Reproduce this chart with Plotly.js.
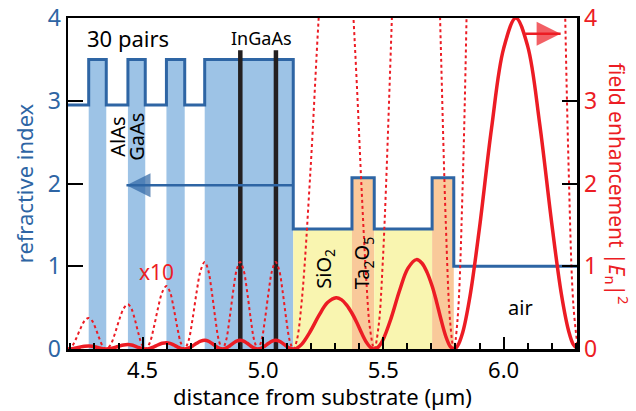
<!DOCTYPE html>
<html>
<head>
<meta charset="utf-8">
<script src="https://cdn.plot.ly/plotly-3.0.1.min.js"></script>
<style>html,body{margin:0;padding:0;background:#fff;}#chart{width:636px;height:411px;}</style>
</head>
<body>
<div id="chart"></div>
<script>
// Layer structure (µm from substrate) and refractive index
const layerBounds = [4.19, 4.276, 4.349, 4.439, 4.511, 4.599, 4.675, 4.758, 5.126, 5.370, 5.4625, 5.703, 5.793, 6.305];
const layerIndex = [2.95, 3.5, 2.95, 3.5, 2.95, 3.5, 2.95, 3.5, 1.45, 2.07, 1.45, 2.07, 1.0];
const layerMaterial = ['AlAs','GaAs','AlAs','GaAs','AlAs','GaAs','AlAs','GaAs','SiO2','Ta2O5','SiO2','Ta2O5','air'];

// Quantum wells (InGaAs)
const qwX = [4.906, 5.054];
const qwTop = 3.61;

// Field enhancement |E_n|^2
const fieldX = [
4.190, 4.2072, 4.2244, 4.2416, 4.2588, 4.276, 4.2906, 4.3052, 4.3198, 4.3344, 4.349,
4.367, 4.385, 4.403, 4.421, 4.439, 4.4536, 4.4682, 4.4828, 4.4974, 4.512,
4.5294, 4.5468, 4.5642, 4.5816, 4.599, 4.614, 4.629, 4.644, 4.659, 4.674,
4.6908, 4.7076, 4.7244, 4.7412, 4.758, 4.7728, 4.7876, 4.8024, 4.8172, 4.832,
4.8466, 4.8612, 4.8758, 4.8904, 4.905, 4.9198, 4.9346, 4.9494, 4.9642, 4.979,
4.9938, 5.0086, 5.0234, 5.0382, 5.053, 5.0676, 5.0822, 5.0968, 5.1114, 5.126,
5.140, 5.1616, 5.1972, 5.2328, 5.2684, 5.304, 5.326, 5.348, 5.370, 5.390, 5.410, 5.430, 5.445, 5.4625,
5.480, 5.4976, 5.5327, 5.5678, 5.6029, 5.638, 5.660, 5.682, 5.703, 5.720, 5.740, 5.760, 5.778, 5.793,
5.808, 5.830, 5.860, 5.900, 5.950, 6.000, 6.051, 6.100, 6.150, 6.200, 6.240, 6.270, 6.290, 6.309
];
const fieldY = [
0, 0.0036, 0.0130, 0.0246, 0.0340, 0.0376, 0.0340, 0.0246, 0.0130, 0.0036, 0,
0.0052, 0.0187, 0.0353, 0.0488, 0.054, 0.0488, 0.0353, 0.0187, 0.0052, 0,
0.0073, 0.0263, 0.0497, 0.0687, 0.076, 0.0687, 0.0497, 0.0263, 0.0073, 0,
0.0100, 0.0363, 0.0687, 0.0950, 0.105, 0.0950, 0.0687, 0.0363, 0.0100, 0,
0.0100, 0.0363, 0.0687, 0.0950, 0.105, 0.0950, 0.0687, 0.0363, 0.0100, 0,
0.0100, 0.0363, 0.0687, 0.0950, 0.105, 0.0950, 0.0687, 0.0363, 0.0100, 0,
0.0094, 0.0592, 0.2142, 0.4058, 0.5608, 0.62, 0.597, 0.531, 0.432, 0.321, 0.193, 0.081, 0.0243, 0,
0.0262, 0.1031, 0.3731, 0.7069, 0.9769, 1.08, 1.040, 0.926, 0.761, 0.587, 0.356, 0.151, 0.0326, 0,
0.0333, 0.199, 0.631, 1.468, 2.67, 3.63, 4.0, 3.66, 2.72, 1.52, 0.665, 0.221, 0.053, 0
];
const zoomFactor = 10;

// Arrows (start -> tip)
const blueArrowX = [5.126, 4.433];
const blueArrowY = [1.98, 1.98];
const redArrowX = [6.09, 6.237];
const redArrowY = [3.81, 3.81];

const xTickVals = [4.5, 5.0, 5.5, 6.0];
const xTickText = ['4.5', '5.0', '5.5', '6.0'];
const yTickVals = [0, 1, 2, 3, 4];

const BLUE = '#2e65a4';
const RED = '#ec1c24';
const FONT = 'Noto Sans, Open Sans, sans-serif';
const fillColor = {AlAs: 'rgba(0,0,0,0)', GaAs: '#9dc3e6', SiO2: '#f9f5b0', Ta2O5: '#f9c99a', air: 'rgba(0,0,0,0)'};

const barX = [], barW = [];
for (let i = 0; i < layerIndex.length; i++) {
  barX.push((layerBounds[i] + layerBounds[i + 1]) / 2);
  barW.push(layerBounds[i + 1] - layerBounds[i]);
}

const qwLineX = [], qwLineY = [];
qwX.forEach(v => { qwLineX.push(v, v, null); qwLineY.push(0, qwTop, null); });

const traces = [
  {type: 'bar', x: barX, y: layerIndex, width: barW, base: 0,
   marker: {color: layerMaterial.map(m => fillColor[m]), line: {width: 0}},
   hoverinfo: 'skip', showlegend: false, xaxis: 'x', yaxis: 'y'},
  {type: 'scatter', mode: 'lines', x: layerBounds, y: layerIndex.concat([layerIndex[layerIndex.length - 1]]),
   line: {shape: 'hv', color: BLUE, width: 3}, hoverinfo: 'skip', showlegend: false, yaxis: 'y'},
  {type: 'scatter', mode: 'lines', x: qwLineX, y: qwLineY,
   line: {color: '#231f20', width: 4.5}, hoverinfo: 'skip', showlegend: false, yaxis: 'y'},
  {type: 'scatter', mode: 'lines+markers', x: blueArrowX, y: blueArrowY,
   line: {color: BLUE, width: 2.5}, marker: {symbol: 'arrow-left', size: [0, 24], color: BLUE, line: {width: 0}},
   hoverinfo: 'skip', showlegend: false, yaxis: 'y'},
  {type: 'scatter', mode: 'lines', x: fieldX, y: fieldY.map(v => v * zoomFactor),
   line: {shape: 'spline', color: RED, width: 2, dash: 'dot'}, hoverinfo: 'skip', showlegend: false, yaxis: 'y2'},
  {type: 'scatter', mode: 'lines', x: fieldX, y: fieldY,
   line: {shape: 'spline', color: RED, width: 3.5}, hoverinfo: 'skip', showlegend: false, yaxis: 'y2'},
  {type: 'scatter', mode: 'lines+markers', x: redArrowX, y: redArrowY,
   line: {color: RED, width: 2.5}, marker: {symbol: 'arrow-right', size: [0, 24], color: RED, line: {width: 0}},
   hoverinfo: 'skip', showlegend: false, yaxis: 'y2'}
];

function txt(text, x, y, size, color, angle) {
  return {text: text, x: x, y: y, xref: 'x', yref: 'y', showarrow: false,
          font: {family: FONT, size: size, color: color || '#000'}, textangle: angle || 0,
          xanchor: 'center', yanchor: 'middle'};
}

const layout = {
  width: 636, height: 411,
  margin: {l: 68, r: 59, t: 18, b: 62, pad: 0},
  paper_bgcolor: '#fff', plot_bgcolor: '#fff',
  font: {family: FONT, size: 22, color: '#000'},
  barmode: 'overlay',
  showlegend: false,
  xaxis: {
    range: [4.19, 6.305], tickvals: xTickVals, ticktext: xTickText,
    ticks: 'inside', ticklen: 12, tickwidth: 2, tickcolor: '#000',
    minor: {dtick: 0.1, tick0: 4.0, ticks: 'inside', ticklen: 6, tickwidth: 2, tickcolor: '#000'},
    showline: true, linewidth: 2.5, linecolor: '#000', mirror: true,
    showgrid: false, zeroline: false,
    tickfont: {family: FONT, size: 22, color: '#000'},
    title: {text: 'distance from substrate (µm)', font: {family: FONT, size: 22, color: '#000'}, standoff: 6}
  },
  yaxis: {
    range: [0, 4], tickvals: yTickVals,
    ticks: 'inside', ticklen: 15, tickwidth: 2, tickcolor: '#000',
    showline: true, linewidth: 2.5, linecolor: '#000',
    showgrid: false, zeroline: false,
    tickfont: {family: FONT, size: 23, color: BLUE},
    title: {text: 'refractive index', font: {family: FONT, size: 22, color: BLUE}, standoff: 8}
  },
  yaxis2: {
    range: [0, 4], tickvals: yTickVals, overlaying: 'y', side: 'right',
    ticks: 'inside', ticklen: 15, tickwidth: 2, tickcolor: '#000',
    showline: true, linewidth: 2.5, linecolor: '#000',
    showgrid: false, zeroline: false,
    tickfont: {family: FONT, size: 23, color: RED}
  },
  annotations: [
    txt('30 pairs', 4.4375, 3.76, 22),
    txt('InGaAs', 4.992, 3.76, 18),
    txt('AlAs', 4.396, 2.56, 20, '#000', -90),
    txt('GaAs', 4.475, 2.56, 20, '#000', -90),
    txt('x10', 4.558, 0.93, 21, RED),
    txt('SiO<sub>2</sub>', 5.258, 0.97, 20, '#000', -90),
    txt('Ta<sub>2</sub>O<sub>5</sub>', 5.417, 1.04, 20, '#000', -90),
    txt('air', 6.071, 0.50, 20),
    {text: 'field enhancement |<i>E</i><sub>n</sub>|<sup>2</sup>', xref: 'paper', yref: 'paper',
     x: 1.08, y: 0.5, showarrow: false, textangle: 90, xanchor: 'center', yanchor: 'middle',
     font: {family: FONT, size: 21, color: RED}}
  ]
};

Plotly.newPlot('chart', traces, layout, {displayModeBar: false, staticPlot: true});
</script>
</body>
</html>
